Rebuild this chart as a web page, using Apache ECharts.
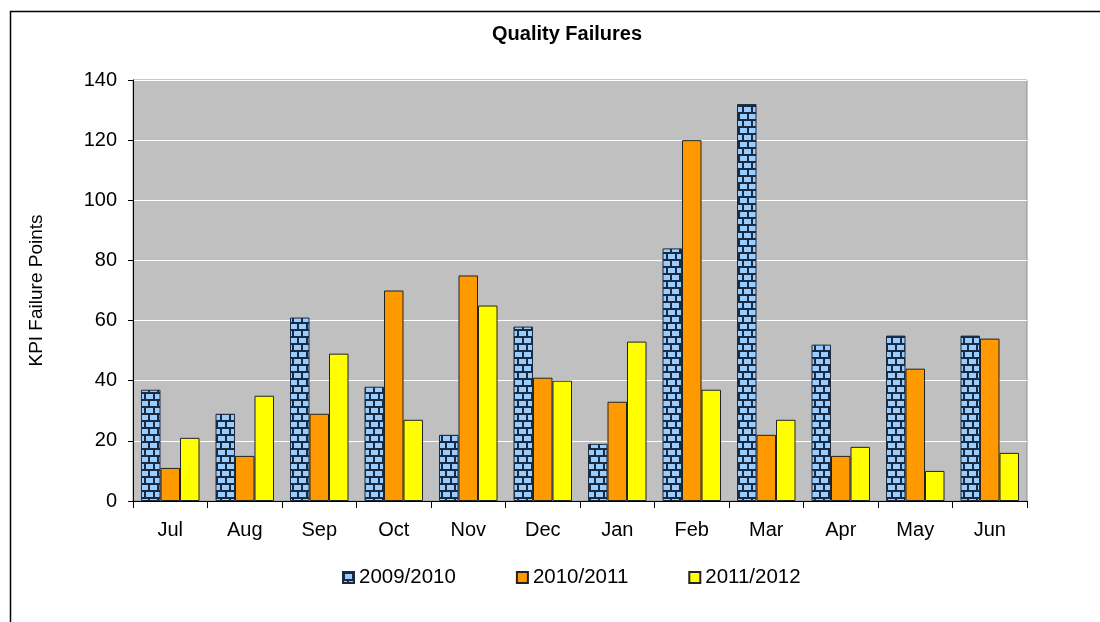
<!DOCTYPE html>
<html>
<head>
<meta charset="utf-8">
<script src="https://cdn.jsdelivr.net/npm/echarts@6/dist/echarts.min.js"></script>
<style>
html,body{margin:0;padding:0;background:#fff;}
#chart{width:1100px;height:622px;}
</style>
</head>
<body>
<div id="chart"></div>
<script>
var categories = ['Jul','Aug','Sep','Oct','Nov','Dec','Jan','Feb','Mar','Apr','May','Jun'];
var s2009 = [37, 29, 61, 38, 22, 58, 19, 84, 132, 52, 55, 55];
var s2010 = [11, 15, 29, 70, 75, 41, 33, 120, 22, 15, 44, 54];
var s2011 = [21, 35, 49, 27, 65, 40, 53, 37, 27, 18, 10, 16];
var seriesNames = ['2009/2010', '2010/2011', '2011/2012'];

function brick() {
  var c = document.createElement('canvas');
  c.width = 18; c.height = 14;
  var g = c.getContext('2d');
  g.fillStyle = '#99CCFF';
  g.fillRect(0, 0, 18, 14);
  g.fillStyle = '#1a2a40';
  g.fillRect(0, 0, 18, 2);
  g.fillRect(0, 7, 18, 2);
  g.fillRect(0, 0, 2, 7);
  g.fillRect(9, 0, 2, 7);
  g.fillRect(4, 7, 2, 7);
  g.fillRect(13, 7, 2, 7);
  return c;
}

var chart = echarts.init(document.getElementById('chart'), null, {renderer: 'canvas'});
var font = 'Liberation Sans, Arial, sans-serif';
chart.setOption({
  animation: false,
  textStyle: {fontFamily: font},
  title: {
    text: 'Quality Failures',
    left: 487, top: 19,
    textStyle: {fontFamily: font, fontSize: 20, fontWeight: 'bold', color: '#000'}
  },
  graphic: [{
    type: 'rect',
    shape: {x: 10.5, y: 11.5, width: 1300, height: 800},
    style: {fill: null, stroke: '#000', lineWidth: 1.5},
    silent: true, z: 100
  }],
  legend: {
    left: 337, top: 562,
    itemWidth: 11, itemHeight: 11, itemGap: 60,
    icon: 'rect',
    textStyle: {fontFamily: font, fontSize: 20.5, color: '#000'},
    data: seriesNames
  },
  grid: {
    left: 133, right: 73, top: 80, bottom: 121,
    show: true, backgroundColor: '#C0C0C0', borderColor: '#909090', borderWidth: 1
  },
  xAxis: {
    type: 'category',
    data: categories,
    axisLine: {lineStyle: {color: '#000', width: 1}},
    axisTick: {show: true, length: 7, alignWithLabel: false, lineStyle: {color: '#000'}},
    axisLabel: {fontFamily: font, fontSize: 20, color: '#000', margin: 19}
  },
  yAxis: {
    type: 'value',
    min: 0, max: 140, interval: 20,
    name: 'KPI Failure Points',
    nameLocation: 'middle',
    nameGap: 87,
    nameTextStyle: {fontFamily: font, fontSize: 19, color: '#000'},
    axisLine: {show: true, lineStyle: {color: '#000', width: 1}},
    axisTick: {show: true, length: 5, lineStyle: {color: '#000'}},
    axisLabel: {fontFamily: font, fontSize: 20, color: '#000', margin: 16},
    splitLine: {show: true, lineStyle: {color: '#FFFFFF', width: 1}}
  },
  series: [
    {name: seriesNames[0], type: 'bar', data: s2009, barWidth: 19.5, barGap: '0%',
     itemStyle: {color: {image: brick(), repeat: 'repeat'}, borderColor: '#1a2a40', borderWidth: 1}},
    {name: seriesNames[1], type: 'bar', data: s2010, barWidth: 19.5, barGap: '0%',
     itemStyle: {color: '#FF9900', borderColor: '#222', borderWidth: 1}},
    {name: seriesNames[2], type: 'bar', data: s2011, barWidth: 19.5, barGap: '0%',
     itemStyle: {color: '#FFFF00', borderColor: '#222', borderWidth: 1}}
  ]
});
</script>
</body>
</html>
